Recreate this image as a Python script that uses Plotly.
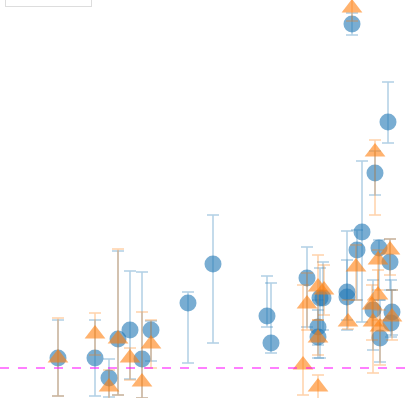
import plotly.graph_objects as go

# ---- data (y relative to reference line at 0) ----
blue_x = [5.8, 9.5, 10.9, 11.8, 13.0, 14.2, 15.1, 18.8, 21.3, 26.7, 27.1, 30.7, 32.0, 32.3,
          31.8, 31.8, 34.7, 34.7, 35.7, 36.2, 37.9, 39.0, 37.3, 39.2, 38.0, 39.1, 37.5, 38.8, 35.2]
blue_y = [1.0, 1.0, -1.0, 2.9, 3.8, 0.9, 3.8, 6.5, 10.4, 5.2, 2.5, 9.0, 7.0, 7.0,
          4.1, 3.1, 7.6, 7.1, 11.8, 13.6, 12.0, 10.6, 5.8, 5.6, 3.0, 4.5, 19.5, 24.6, 34.4]
blue_plus = [3.8, 3.8, 1.9, 8.8, 5.9, 8.7, 0.9, 1.1, 4.9, 4.0, 6.0, 3.1, 3.0, 3.6,
             2.7, 2.7, 6.1, 3.7, 2.0, 7.1, 0.8, 2.3, 3.0, 2.2, 3.8, 4.3, 2.2, 4.0, 1.1]
blue_minus = [3.8, 3.8, 1.9, 5.6, 4.9, 3.9, 3.1, 6.0, 7.9, 1.1, 1.0, 4.9, 6.0, 3.2,
              1.8, 2.1, 3.8, 2.3, 5.0, 9.0, 5.2, 2.8, 4.0, 2.3, 2.4, 1.4, 2.2, 2.1, 1.1]

orange_x = [5.8, 9.5, 10.9, 11.8, 13.0, 14.2, 15.1, 30.3, 30.7, 31.8, 31.8, 32.4, 31.8,
            34.8, 35.6, 37.8, 39.0, 37.8, 37.2, 37.3, 39.2, 37.5, 35.2, 38.0]
orange_y = [1.0, 3.4, -1.9, 2.9, 1.0, -1.4, 2.4, 0.3, 6.4, -1.9, 8.1, 7.8, 3.0,
            4.6, 10.1, 10.8, 11.8, 7.3, 6.3, 4.6, 5.1, 21.6, 36.0, 4.1]
orange_plus = [4.0, 2.1, 1.7, 9.0, 1.0, 7.0, 2.4, 8.0, 3.1, 1.2, 3.2, 2.5, 1.8,
               2.2, 2.2, 1.0, 1.1, 2.5, 2.0, 2.2, 2.7, 1.2, 1.3, 1.7]
orange_minus = [3.8, 2.1, 1.7, 5.6, 2.2, 1.6, 2.4, 3.0, 2.6, 1.2, 3.3, 2.5, 1.7,
                0.7, 3.3, 3.0, 2.5, 2.5, 3.5, 5.1, 2.3, 6.3, 1.3, 3.8]

names = ["group A", "group B"]
ref_value = 0.0

fig = go.Figure()
fig.add_trace(go.Scatter(
    x=blue_x, y=blue_y, mode="markers", name=names[0], cliponaxis=False,
    marker=dict(symbol="circle", size=17, color="rgba(31,119,180,0.6)", line=dict(width=0)),
    error_y=dict(type="data", symmetric=False, array=blue_plus, arrayminus=blue_minus,
                 color="rgba(31,119,180,0.35)", thickness=1.5, width=6),
))
fig.add_trace(go.Scatter(
    x=orange_x, y=orange_y, mode="markers", name=names[1], cliponaxis=False,
    marker=dict(symbol="triangle-up", size=18, color="rgba(255,127,14,0.6)", line=dict(width=0)),
    error_y=dict(type="data", symmetric=False, array=orange_plus, arrayminus=orange_minus,
                 color="rgba(255,127,14,0.35)", thickness=1.5, width=6),
))
fig.add_shape(type="line", xref="paper", x0=0, x1=1, yref="y", y0=ref_value, y1=ref_value,
              line=dict(color="magenta", width=1, dash="dash"))

fig.update_layout(
    width=406, height=398,
    margin=dict(l=0, r=0, t=0, b=0, pad=0, autoexpand=False),
    paper_bgcolor="white", plot_bgcolor="white",
    xaxis=dict(visible=False, range=[0.0, 40.6]),
    yaxis=dict(visible=False, range=[-3.0, 36.8]),
    showlegend=True,
    legend=dict(x=5/406, xanchor="left", y=1 - 7/398, yanchor="bottom",
                bgcolor="white", bordercolor="#dddddd", borderwidth=1,
                font=dict(family="DejaVu Sans", size=10)),
)
fig.write_html("out.html", config={"displayModeBar": False},
               post_script="document.body.style.margin='0';")
